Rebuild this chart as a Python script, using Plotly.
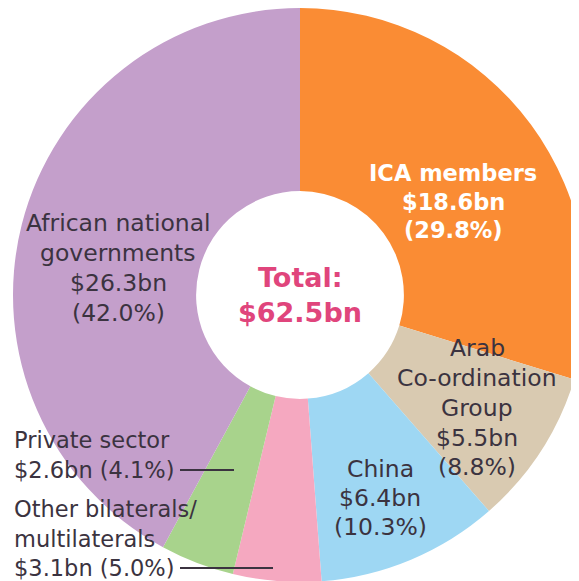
import plotly.graph_objects as go

W, H = 579, 581
OFF = 8  # page body margin offset of the figure inside the window

labels = ["ICA members", "Arab Co-ordination Group", "China",
          "Other bilaterals/multilaterals", "Private sector",
          "African national governments"]
values_bn = [18.6, 5.5, 6.4, 3.1, 2.6, 26.3]
shares_pct = [29.8, 8.8, 10.3, 5.0, 4.1, 42.0]
colors = ["#FA8C34", "#D9CAB1", "#9ED7F3", "#F5A8C0", "#A8D38C", "#C49FCB"]
total_bn = 62.5

fig = go.Figure(go.Pie(
    labels=labels, values=values_bn, sort=False, direction="clockwise",
    rotation=0, hole=0.362, textinfo="none", hoverinfo="label+value",
    marker=dict(colors=colors, line=dict(width=0)),
    domain=dict(x=[5 / W, 1.0], y=[1 - 574 / H, 1.0]),
    showlegend=False,
))

def px(x, y):
    # screen pixel -> paper fraction
    return (x - OFF) / W, 1 - (y - OFF) / H

dark = "#3B3340"
FONT = "DejaVu Sans"
val_txt = [f"${v}bn" for v in values_bn]
pct_txt = [f"({p}%)" for p in shares_pct]

ann = []
def add_lines(x, ys, lines, size=23.5, color=dark, weight=400, xanchor="center"):
    for y, t in zip(ys, lines):
        ax, ay = px(x, y)
        ann.append(dict(x=ax, y=ay, xref="paper", yref="paper", text=t,
                        showarrow=False, xanchor=xanchor, yanchor="middle",
                        font=dict(family=FONT, size=size, color=color, weight=weight)))

add_lines(453, [173, 202, 230], ["ICA members", val_txt[0], pct_txt[0]],
          size=22.5, color="white", weight=700)
add_lines(477, [348, 378, 408, 438, 467],
          ["Arab", "Co-ordination", "Group", val_txt[1], pct_txt[1]])
add_lines(380, [469, 498, 527], ["China", val_txt[2], pct_txt[2]])
add_lines(118, [223, 253, 283, 313],
          ["African national", "governments", val_txt[5], pct_txt[5]])
add_lines(12, [440, 470], ["Private sector", f"{val_txt[4]} {pct_txt[4]}"],
          size=22.5, xanchor="left")
add_lines(12, [509, 539, 568],
          ["Other bilaterals/", "multilaterals", f"{val_txt[3]} {pct_txt[3]}"],
          size=22.5, xanchor="left")
add_lines(300, [277, 312], ["Total:", f"${total_bn}bn"],
          size=27, color="#E0457C", weight=700)

shapes = []
for (x0, x1, y) in [(180, 234, 470), (180, 273, 568)]:
    a0, b0 = px(x0, y)
    a1, b1 = px(x1, y)
    shapes.append(dict(type="line", xref="paper", yref="paper", x0=a0, y0=b0,
                       x1=a1, y1=b1, line=dict(color=dark, width=2)))

fig.update_layout(width=W, height=H, margin=dict(l=0, r=0, t=0, b=0),
                  paper_bgcolor="white", plot_bgcolor="white",
                  annotations=ann, shapes=shapes)
fig.write_html("out.html")
